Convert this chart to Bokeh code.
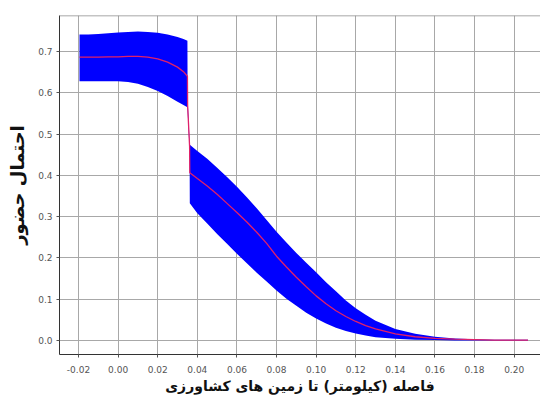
from bokeh.plotting import figure
from bokeh.models import Range1d, FixedTicker, Span
from bokeh.embed import file_html
from bokeh.resources import INLINE

# distance (km) to agricultural land
dist = [-0.0195, -0.015, -0.01, -0.005, 0.0, 0.005, 0.01, 0.015, 0.02, 0.025, 0.03, 0.033, 0.035,
        0.0351, 0.0361,
        0.0362, 0.040, 0.045, 0.050, 0.055, 0.060, 0.065, 0.070, 0.075, 0.080, 0.085, 0.090,
        0.095, 0.100, 0.105, 0.110, 0.115, 0.120, 0.125, 0.130, 0.140, 0.150, 0.160, 0.170,
        0.180, 0.190, 0.200, 0.207]
upper = [0.741, 0.741, 0.742, 0.744, 0.746, 0.747, 0.748, 0.747, 0.745, 0.741, 0.735, 0.730, 0.726,
         0.585, 0.480,
         0.474, 0.459, 0.440, 0.418, 0.396, 0.372, 0.347, 0.320, 0.292, 0.263, 0.237, 0.212,
         0.188, 0.165, 0.141, 0.119, 0.097, 0.078, 0.062, 0.048, 0.028, 0.016, 0.009, 0.005,
         0.003, 0.002, 0.002, 0.002]
mean = [0.686, 0.686, 0.686, 0.687, 0.687, 0.688, 0.688, 0.686, 0.682, 0.674, 0.662, 0.651, 0.640,
        0.570, 0.470,
        0.406, 0.392, 0.374, 0.354, 0.332, 0.310, 0.287, 0.262, 0.235, 0.204, 0.178, 0.153,
        0.130, 0.108, 0.089, 0.072, 0.058, 0.046, 0.036, 0.028, 0.016, 0.009, 0.005, 0.003,
        0.002, 0.001, 0.001, 0.001]
lower = [0.628, 0.628, 0.628, 0.628, 0.628, 0.626, 0.622, 0.614, 0.604, 0.592, 0.578, 0.570, 0.565,
         0.555, 0.460,
         0.332, 0.308, 0.283, 0.258, 0.234, 0.210, 0.187, 0.164, 0.143, 0.121, 0.101, 0.084,
         0.067, 0.053, 0.041, 0.031, 0.023, 0.017, 0.012, 0.008, 0.004, 0.002, 0.001, 0.000,
         0.000, 0.000, 0.000, 0.000]

x_ticks = [-0.02, 0.0, 0.02, 0.04, 0.06, 0.08, 0.10, 0.12, 0.14, 0.16, 0.18, 0.20]
y_ticks = [0.0, 0.1, 0.2, 0.3, 0.4, 0.5, 0.6, 0.7]
x_title = "فاصله (کیلومتر) تا زمین های کشاورزی"
y_title = "احتمال حضور"

p = figure(width=540, height=399, output_backend="svg", toolbar_location=None,
           x_range=Range1d(-0.0296, 0.2133), y_range=Range1d(-0.034, 0.787),
           min_border_left=59, min_border_top=15, min_border_right=0, min_border_bottom=45)
p.background_fill_color = "white"
p.border_fill_color = "white"
p.outline_line_color = None
p.add_layout(Span(location=p.y_range.end, dimension="width", line_color="#8a8a8a", line_width=1.5))

p.varea(x=dist, y1=lower, y2=upper, fill_color="#0000ff", fill_alpha=1.0)
p.line(x=dist, y=mean, line_color="#e0206a", line_width=1.3)

p.xaxis.ticker = FixedTicker(ticks=x_ticks)
p.yaxis.ticker = FixedTicker(ticks=y_ticks)
p.xaxis.major_label_overrides = {t: f"{t:.2f}" for t in x_ticks}
p.yaxis.major_label_overrides = {t: f"{t:.1f}" for t in y_ticks}
for ax in (p.xaxis[0], p.yaxis[0]):
    ax.axis_line_color = "#333333"
    ax.major_tick_line_color = "#555555"
    ax.major_tick_out = 3
    ax.major_tick_in = 0
    ax.minor_tick_line_color = None
    ax.major_label_text_font = "DejaVu Sans"
    ax.major_label_text_font_size = "9px"
    ax.major_label_text_color = "#555555"
    ax.axis_label_text_font = "DejaVu Sans"
    ax.axis_label_text_font_style = "bold"
    ax.axis_label_text_color = "#111111"
p.xaxis.axis_label_text_font_size = "14px"
p.yaxis.axis_label_text_font_size = "18px"
p.yaxis.major_label_standoff = 4
p.xaxis.major_label_standoff = 8
p.xaxis.axis_label = x_title
p.yaxis.axis_label = y_title
p.xaxis.axis_label_standoff = 2
p.yaxis.axis_label_standoff = 7

p.grid.grid_line_color = "#a8a8a8"
p.grid.grid_line_width = 1

html = file_html(p, INLINE)
open("out.html", "w").write(html)
